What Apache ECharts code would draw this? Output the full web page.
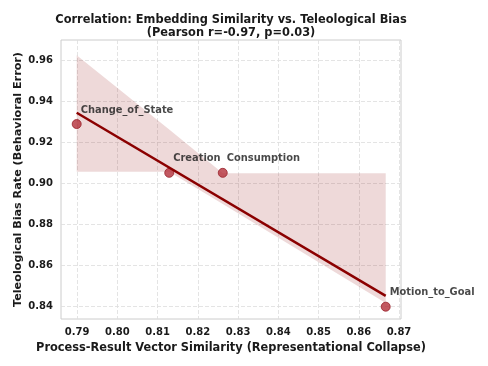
<!DOCTYPE html>
<html>
<head>
<meta charset="utf-8">
<script src="https://cdn.jsdelivr.net/npm/echarts@6/dist/echarts.min.js"></script>
<style>html,body{margin:0;padding:0;background:#fff}#chart{width:488px;height:366px}</style>
</head>
<body>
<div id="chart"></div>
<script>
var titleText = 'Correlation: Embedding Similarity vs. Teleological Bias\n(Pearson r=-0.97, p=0.03)';
var xName = 'Process-Result Vector Similarity (Representational Collapse)';
var yName = 'Teleological Bias Rate (Behavioral Error)';
var categories = ['Change_of_State', 'Creation', 'Consumption', 'Motion_to_Goal'];
var similarity = [0.7899, 0.8129, 0.8262, 0.8667];
var biasRate = [0.9288, 0.9050, 0.9050, 0.8397];
var fitX = [0.7899, 0.8667];
var fitY = [0.9343, 0.8450];
var bandX = [0.7899, 0.8129, 0.8262, 0.8667];
var bandUpper = [0.9624, 0.9261, 0.9048, 0.9048];
var bandLower = [0.9055, 0.9055, 0.8898, 0.8415];
var xTicks = [0.79, 0.80, 0.81, 0.82, 0.83, 0.84, 0.85, 0.86, 0.87];
var yTicks = [0.84, 0.86, 0.88, 0.90, 0.92, 0.94, 0.96];

var FONT = 'DejaVu Sans';
var chart = echarts.init(document.getElementById('chart'), null, {renderer: 'canvas'});

var bandData = bandX.map(function (x, i) { return [x, bandUpper[i], bandLower[i]]; });
var pointData = similarity.map(function (x, i) { return {value: [x, biasRate[i]], name: categories[i]}; });
var fitData = fitX.map(function (x, i) { return [x, fitY[i]]; });

var option = {
  animation: false,
  backgroundColor: '#fff',
  title: {
    text: titleText,
    left: 226, top: 9, textAlign: 'center',
    textStyle: {fontFamily: FONT, fontSize: 11.4, fontWeight: 'bold', color: '#1a1a1a', lineHeight: 12.7}
  },
  grid: {left: 61, right: 87, top: 40, bottom: 47, show: true, borderColor: '#cccccc', borderWidth: 1, backgroundColor: 'transparent'},
  xAxis: {
    type: 'value', min: 0.786, max: 0.8705,
    name: xName, nameLocation: 'middle', nameGap: 24, nameMoveOverlap: false,
    nameTextStyle: {fontFamily: FONT, fontSize: 11.4, fontWeight: 'bold', color: '#1a1a1a'},
    axisLine: {show: false},
    axisTick: {show: false, customValues: xTicks},
    axisLabel: {customValues: xTicks, margin: 8, fontFamily: FONT, fontSize: 10, fontWeight: 'bold', color: '#1a1a1a',
      formatter: function (v) { return v.toFixed(2); }},
    splitLine: {show: true, lineStyle: {color: '#dddddd', type: [4, 2], width: 0.8}}
  },
  yAxis: {
    type: 'value', min: 0.8337, max: 0.9698,
    name: yName, nameLocation: 'middle', nameGap: 37, nameRotate: 90, nameMoveOverlap: false,
    nameTextStyle: {fontFamily: FONT, fontSize: 11.2, fontWeight: 'bold', color: '#1a1a1a'},
    axisLine: {show: false},
    axisTick: {show: false, customValues: yTicks},
    axisLabel: {customValues: yTicks, margin: 8, fontFamily: FONT, fontSize: 10, fontWeight: 'bold', color: '#1a1a1a',
      formatter: function (v) { return v.toFixed(2); }},
    splitLine: {show: true, lineStyle: {color: '#dddddd', type: [4, 2], width: 0.8}}
  },
  series: [
    {
      type: 'custom', z: 1, silent: true,
      data: bandData,
      renderItem: function (params, api) {
        if (params.dataIndex !== 0) return null;
        var pts = [];
        for (var i = 0; i < bandX.length; i++) pts.push(api.coord([bandX[i], bandUpper[i]]));
        for (var j = bandX.length - 1; j >= 0; j--) pts.push(api.coord([bandX[j], bandLower[j]]));
        return {type: 'polygon', shape: {points: pts}, style: {fill: 'rgba(139,0,0,0.15)'}};
      }
    },
    {
      type: 'scatter', z: 3, data: pointData, symbolSize: 9,
      itemStyle: {color: '#b3303a', borderColor: '#99202a', borderWidth: 1},
      label: {show: true, position: 'inside', align: 'left', verticalAlign: 'middle', offset: [4, -14],
        formatter: function (p) { return p.name; },
        fontFamily: FONT, fontSize: 9.9, fontWeight: 'bold', color: '#1a1a1a'}
    },
    {
      type: 'line', z: 4, data: fitData, symbol: 'none',
      lineStyle: {color: '#8b0000', width: 2.5}
    }
  ]
};
chart.setOption(option);
</script>
</body>
</html>
